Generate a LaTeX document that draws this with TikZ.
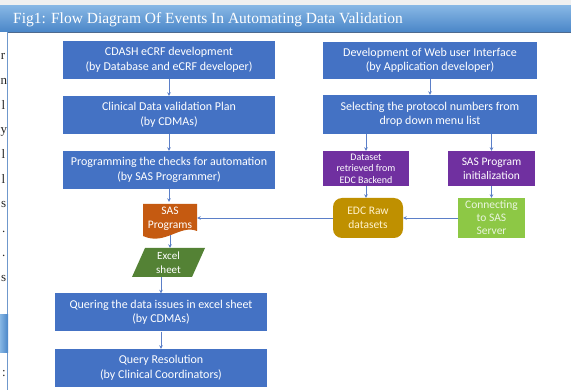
\documentclass[tikz,border=0pt]{standalone}
\usepackage{fontspec}
\setmainfont{Carlito}
\newfontfamily\serifnm{Liberation Serif}
\usetikzlibrary{arrows.meta,calc}
\definecolor{boxblue}{HTML}{4472C4}
\definecolor{linkblue}{HTML}{5B7FC8}
\definecolor{purp}{HTML}{7030A0}
\definecolor{orng}{HTML}{C55A11}
\definecolor{xlgreen}{HTML}{548235}
\definecolor{gold}{HTML}{BF9000}
\definecolor{lgreen}{HTML}{8DC845}
\definecolor{titletop}{HTML}{86B6E4}
\definecolor{titlebot}{HTML}{4A86C8}
\definecolor{framecol}{HTML}{6F98CC}
\definecolor{goldtext}{HTML}{FFF2CC}
\definecolor{grtext}{HTML}{EAF5DF}
\tikzset{
  bluebox/.style={fill=boxblue, text=white, align=center, minimum width=212pt, minimum height=38pt, inner sep=1pt, font=\fontsize{12}{14.5}\selectfont},
  purpbox/.style={fill=purp, text=white, align=center, minimum width=86pt, minimum height=35pt, inner sep=0.5pt},
  arr/.style={draw=linkblue, line width=0.6pt, -{Stealth[length=3.5pt,width=3.5pt]}},
  frag/.style={anchor=base west, font=\serifnm\fontsize{13}{13}\selectfont, text=black!85, inner sep=0pt}
}
\begin{document}
\begin{tikzpicture}[x=1pt,y=-1pt]
\useasboundingbox (0,0) rectangle (571,390);
\clip (0,0) rectangle (571,390);
% page background
\fill[white] (0,0) rectangle (571,390);
\fill[black!6] (0,0) rectangle (571,6);
% title bar
\shade[top color=titletop, bottom color=titlebot] (0,6) rectangle (571,32);
\draw[framecol!70!black, line width=0.5pt] (7,32.3) -- (571,32.3);
\node[anchor=base west, text=white, font=\serifnm\fontsize{15.5}{16}\selectfont, inner sep=0pt] (title) at (13,23.5) {Fig1: Flow Diagram Of Events In Automating Data Validation};
% frame line
\draw[framecol, line width=0.9pt] (7.5,32) -- (7.5,390);
% left-edge fragments of the page text
\node[frag] (f1) at (0.8,60) {r};
\node[frag] (f2) at (0.5,85) {n};
\node[frag] (f3) at (1.5,110) {l};
\node[frag] (f4) at (0.5,134) {y};
\node[frag] (f5) at (1.5,159) {l};
\node[frag] (f6) at (1.5,184) {l};
\node[frag] (f7) at (1,208) {s};
\node[frag] (f8) at (2,233) {.};
\node[frag] (f9) at (2,257) {.};
\node[frag] (f10) at (1,282) {s};
\node[frag] (f11) at (2,377) {:};
\shade[left color=titletop, right color=titlebot] (0,315) rectangle (8,353);
% left column
\node[bluebox] (b1) at (169,60) {CDASH eCRF development\\(by Database and eCRF developer)};
\node[bluebox] (b2) at (169,115) {Clinical Data validation Plan\\(by CDMAs)};
\node[bluebox] (b3) at (169,170) {Programming the checks for automation\\(by SAS Programmer)};
% SAS programs (document shape)
\fill[orng] (143,204) -- (197,204) -- (197,231) .. controls (180,224) and (165,246) .. (143,236) -- cycle;
\node[text=white, align=center, minimum width=54pt, minimum height=34pt, inner sep=0pt, font=\fontsize{11.5}{13.5}\selectfont] (sas) at (170,219) {SAS\\Programs};
\coordinate (sasbot) at (170,235);
% Excel sheet (parallelogram)
\fill[xlgreen] (145,248) -- (205,248) -- (192,277) -- (132,277) -- cycle;
\node[text=white, align=center, minimum width=60pt, minimum height=29pt, inner sep=0pt, font=\fontsize{11}{13.5}\selectfont] (excel) at (168.5,262.5) {Excel\\sheet};
\node[bluebox] (b4) at (161,312.5) {Quering the data issues in excel sheet\\(by CDMAs)};
\node[bluebox] (b5) at (161,368) {Query Resolution\\(by Clinical Coordinators)};
% right column
\node[bluebox, minimum width=214pt, minimum height=37pt] (r1) at (430,60.5) {Development of Web user Interface\\(by Application developer)};
\node[bluebox, minimum width=214pt, minimum height=39pt] (r2) at (430,114.5) {Selecting the protocol numbers from\\drop down menu list};
\node[purpbox, font=\fontsize{10}{11.5}\selectfont] (p1) at (366,168.5) {Dataset\\retrieved from\\EDC Backend};
\node[purpbox, minimum width=87pt, font=\fontsize{11.5}{14}\selectfont] (p2) at (491.5,168.5) {SAS Program\\initialization};
\node[fill=gold, rounded corners=9pt, text=goldtext, align=center, minimum width=70pt, minimum height=40pt, inner sep=1pt, font=\fontsize{11.5}{14.5}\selectfont] (edc) at (368,218) {EDC Raw\\datasets};
\node[fill=lgreen, text=grtext, align=center, minimum width=67pt, minimum height=40pt, inner sep=0.5pt, font=\fontsize{11.5}{13}\selectfont] (conn) at (491.5,218) {Connecting\\to SAS\\Server};
% connectors
\draw[arr] (b1) -- (b2);
\draw[arr] (b2) -- (b3);
\draw[arr] (b3.south) -- (b3.south |- sas.north);
\draw[arr] (sasbot) -- (sasbot |- excel.north);
\draw[arr] (b4.north |- excel.south) -- (b4.north);
\draw[arr] (b4) -- (b5);
\draw[arr] (r1) -- (r2);
\draw[arr] (p1.north |- r2.south) -- (p1.north);
\draw[arr] (p2.north |- r2.south) -- (p2.north);
\draw[arr] (p1.south) -- (p1.south |- edc.north);
\draw[arr] (p2.south) -- (p2.south |- conn.north);
\draw[arr] (conn.west) -- (edc.east);
\draw[arr] (edc.west) -- (edc.west -| sas.east);
\end{tikzpicture}
\end{document}
